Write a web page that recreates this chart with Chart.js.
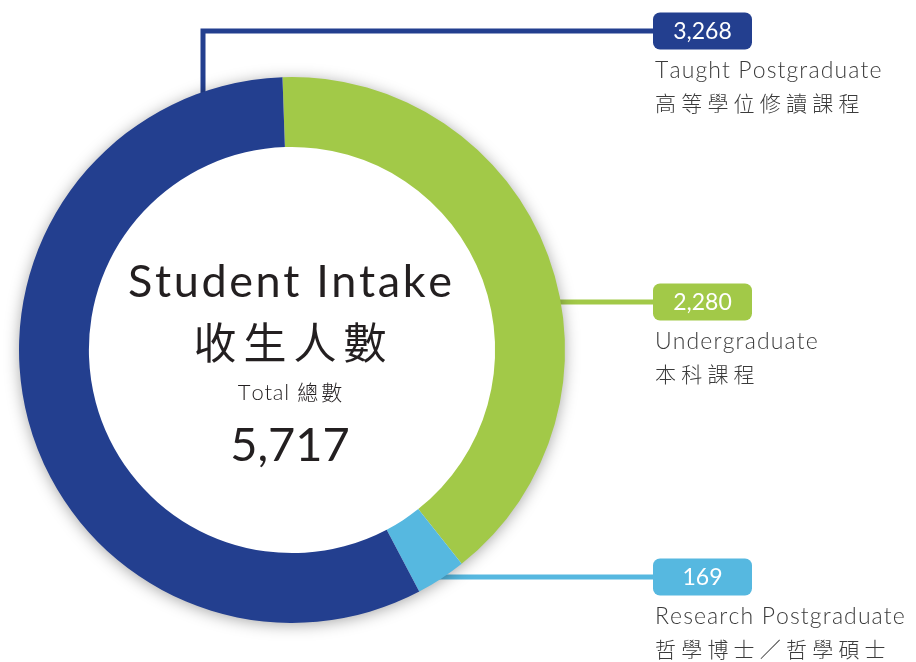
<!DOCTYPE html>
<html>
<head>
<meta charset="utf-8">
<script src="https://cdn.jsdelivr.net/npm/chart.js@4.4.1/dist/chart.umd.min.js"></script>
<style>
  html, body { margin: 0; padding: 0; background: #ffffff; }
  #wrap { width: 916px; height: 662px; position: relative; }
</style>
</head>
<body>
<div id="wrap"><canvas id="intakeChart" width="916" height="662"></canvas></div>
<script>
// data
var categories = ['Undergraduate', 'Research Postgraduate', 'Taught Postgraduate'];
var categoriesZh = ['本科課程', '哲學博士／哲學碩士', '高等學位修讀課程'];
var intake = [2280, 169, 3268];
var sliceColours = ['#a2c948', '#56b8e0', '#233f8f'];

// where the callouts sit (badge centre y) - layout only
var calloutY = [302, 577, 31];

var latin = 'Lato, "Noto Sans", sans-serif';
var cjk = '"Noto Sans CJK TC", "Noto Sans CJK SC", sans-serif';

function spacedText(ctx, str, x, y, gap){
    for (var i = 0; i < str.length; i++) {
        ctx.fillText(str[i], x, y);
        x += ctx.measureText(str[i]).width + gap;
    }
}
function spacedWidth(ctx, str, gap){
    var w = 0;
    for (var i = 0; i < str.length; i++) w += ctx.measureText(str[i]).width + gap;
    return w - gap;
}
function spacedCentred(ctx, str, cx, y, gap){
    var w = spacedWidth(ctx, str, gap);
    spacedText(ctx, str, cx - w / 2, y, gap);
}

var decorations = {
    id: 'decorations',
    beforeDatasetsDraw: function(chart){
        var ctx = chart.ctx;
        var arc = chart.getDatasetMeta(0).data[0];
        var cx = arc.x, cy = arc.y, R = arc.outerRadius;
        var badgeX = 653;

        // leader lines, under the ring
        ctx.save();
        ctx.lineWidth = 5;
        for (var i = 0; i < intake.length; i++) {
            ctx.strokeStyle = sliceColours[i];
            ctx.beginPath();
            var y = calloutY[i];
            if (Math.abs(y - cy) < R - 20) {
                var xs = cx + Math.sqrt(R * R - (y - cy) * (y - cy)) - 15;
                ctx.moveTo(xs, y);
                ctx.lineTo(badgeX + 5, y);
            } else {
                var vx = 203;
                var ys = cy - Math.sqrt(R * R - (vx - cx) * (vx - cx)) + 15;
                ctx.moveTo(vx, ys);
                ctx.lineTo(vx, y);
                ctx.lineTo(badgeX + 5, y);
            }
            ctx.stroke();
        }
        ctx.restore();

        // soft shadow behind the ring
        ctx.save();
        ctx.shadowColor = 'rgba(0,0,0,0.38)';
        ctx.shadowBlur = 16;
        ctx.shadowOffsetX = 0;
        ctx.shadowOffsetY = 2;
        ctx.fillStyle = '#ffffff';
        ctx.beginPath();
        ctx.arc(cx, cy, R - 1, 0, Math.PI * 2);
        ctx.fill();
        ctx.restore();
    },
    afterDatasetsDraw: function(chart){
        var ctx = chart.ctx;
        var arc = chart.getDatasetMeta(0).data[0];
        var cx = arc.x - 2, cy = arc.y;
        var total = intake.reduce(function(a, b){ return a + b; }, 0);

        ctx.save();
        ctx.textAlign = 'left';
        ctx.textBaseline = 'middle';
        ctx.fillStyle = '#231f20';
        ctx.font = '400 45px ' + latin;
        spacedCentred(ctx, 'Student Intake', cx, cy - 68, 2.6);

        ctx.font = '400 43px ' + cjk;
        spacedCentred(ctx, '收生人數', cx, cy - 7, 7);

        // "Total 總數"
        ctx.font = '300 22px ' + latin;
        var t1 = 'Total';
        var w1 = spacedWidth(ctx, t1, 0.8) + 8;
        ctx.font = '300 21px ' + cjk;
        var w2 = spacedWidth(ctx, '總數', 3);
        var x0 = cx - (w1 + w2) / 2;
        ctx.font = '300 22px ' + latin;
        spacedText(ctx, t1, x0, cy + 43, 0.8);
        ctx.font = '300 21px ' + cjk;
        spacedText(ctx, '總數', x0 + w1, cy + 42, 3);

        ctx.font = '400 47px ' + latin;
        spacedCentred(ctx, total.toLocaleString('en-US'), cx, cy + 96, 0);
        ctx.restore();

        // callout badges and labels
        var badgeX = 653, badgeW = 99, badgeH = 37;
        ctx.save();
        for (var i = 0; i < intake.length; i++) {
            var y = calloutY[i];
            ctx.fillStyle = sliceColours[i];
            ctx.beginPath();
            ctx.roundRect(badgeX, y - badgeH / 2, badgeW, badgeH, 7);
            ctx.fill();

            ctx.fillStyle = '#ffffff';
            ctx.font = '400 23px ' + latin;
            ctx.textAlign = 'center';
            ctx.textBaseline = 'middle';
            ctx.fillText(intake[i].toLocaleString('en-US'), badgeX + badgeW / 2, y + 1);

            ctx.fillStyle = '#3b3b3b';
            ctx.textAlign = 'left';
            ctx.textBaseline = 'alphabetic';
            ctx.font = '300 23px ' + latin;
            spacedText(ctx, categories[i], badgeX + 2, y + 47, 1.1);
            ctx.textBaseline = 'middle';
            ctx.font = '300 21px ' + cjk;
            spacedText(ctx, categoriesZh[i], badgeX + 2, y + 72, 5.2);
        }
        ctx.restore();
    }
};

var chart = new Chart(document.getElementById('intakeChart').getContext('2d'), {
    type: 'doughnut',
    data: {
        labels: categories,
        datasets: [{
            data: intake,
            backgroundColor: sliceColours,
            borderWidth: 0,
            hoverOffset: 0
        }]
    },
    options: {
        responsive: false,
        animation: false,
        cutout: '74.4%',
        rotation: -2,
        layout: { padding: { left: 19, right: 351, top: 77, bottom: 39 } },
        plugins: {
            legend: { display: false },
            tooltip: { enabled: false }
        }
    },
    plugins: [decorations]
});
</script>
</body>
</html>
